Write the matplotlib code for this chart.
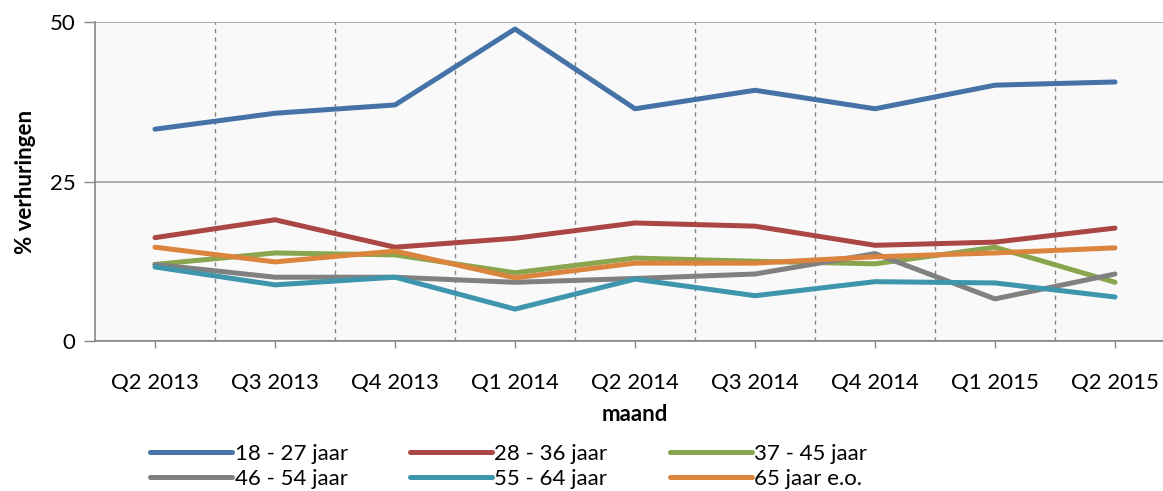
import numpy as np
import matplotlib.pyplot as plt

plt.rcParams['font.family'] = ['Lato', 'DejaVu Sans']

kwartalen = ['Q2 2013', 'Q3 2013', 'Q4 2013', 'Q1 2014', 'Q2 2014',
             'Q3 2014', 'Q4 2014', 'Q1 2015', 'Q2 2015']
labels = ['18 - 27 jaar', '28 - 36 jaar', '37 - 45 jaar',
          '46 - 54 jaar', '55 - 64 jaar', '65 jaar e.o.']
j18_27 = [33.2, 35.7, 37.0, 48.9, 36.4, 39.3, 36.4, 40.1, 40.6]
j28_36 = [16.2, 19.0, 14.7, 16.1, 18.5, 18.0, 15.0, 15.5, 17.7]
j37_45 = [12.0, 13.8, 13.5, 10.7, 13.0, 12.5, 12.1, 14.7, 9.2]
j46_54 = [12.0, 10.0, 10.0, 9.2, 9.8, 10.5, 13.7, 6.6, 10.5]
j55_64 = [11.6, 8.8, 10.0, 5.0, 9.7, 7.1, 9.3, 9.1, 6.9]
j65 = [14.7, 12.4, 14.1, 9.9, 12.2, 12.2, 13.2, 13.8, 14.6]
colors = ['#4572A7', '#AA4643', '#89A54E', '#808080', '#3D96AE', '#DB843D']

series = [j18_27, j28_36, j37_45, j46_54, j55_64, j65]

fig = plt.figure(figsize=(11.63, 4.91), dpi=100)
ax = fig.add_axes([95/1163, 1-341/491, 1080/1163, 319/491])
ax.set_facecolor('#f9f9f9')

x = np.arange(len(kwartalen))
handles = []
for vals, lab, c in zip(series, labels, colors):
    h, = ax.plot(x, vals, color=c, lw=3.6, label=lab, solid_capstyle='round',
                 solid_joinstyle='round', zorder=3)
    handles.append(h)

ax.set_xlim(-0.5, len(kwartalen)-0.5)
ax.set_ylim(0, 50)
ax.set_yticks([0, 25, 50])
ax.set_xticks(x)
ax.set_xticklabels(kwartalen)
ax.set_xticks(np.arange(0.5, len(kwartalen)-1, 1), minor=True)
ax.tick_params(axis='x', which='minor', length=0)
ax.grid(axis='x', which='minor', color='#868686', ls=(0, (3, 3)), lw=1)
ax.grid(axis='y', which='major', color='#a0a0a0', lw=1.2)
ax.tick_params(axis='x', which='major', length=5, width=1, color='#868686',
               labelsize=16, pad=18)
ax.tick_params(axis='y', length=8, width=1, color='#868686', labelsize=16, pad=6)
for s in ['top', 'right']:
    ax.spines[s].set_visible(False)
for s in ['left', 'bottom']:
    ax.spines[s].set_color('#868686')
    ax.spines[s].set_linewidth(1.2)

ax.set_xlabel('maand', fontsize=16, fontweight='bold', labelpad=8)
ax.set_ylabel('% verhuringen', fontsize=16, fontweight='bold', labelpad=10)

# legend filled row by row
order = [0, 3, 1, 4, 2, 5]
fig.legend([handles[i] for i in order], [labels[i] for i in order],
           loc='upper left', bbox_to_anchor=(139/1163, 1-433/491), ncol=3,
           frameon=False, fontsize=16, handlelength=3.7, handletextpad=0.1,
           columnspacing=2.8, labelspacing=0.2, borderpad=0)

plt.savefig('out.png', dpi=100)
